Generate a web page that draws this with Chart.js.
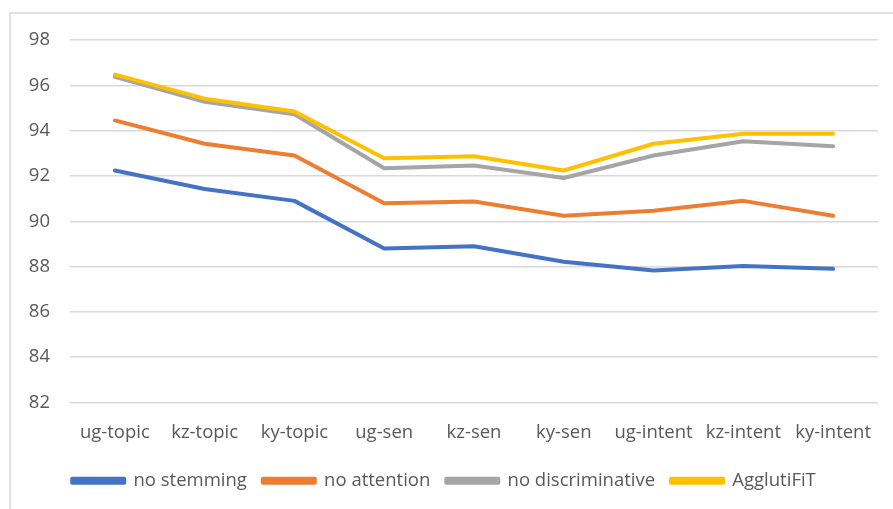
<!DOCTYPE html>
<html>
<head>
<meta charset="utf-8">
<script src="https://cdn.jsdelivr.net/npm/chart.js@4/dist/chart.umd.min.js"></script>
<style>
  html, body { margin: 0; padding: 0; background: #fff; }
  #wrap { width: 893px; height: 509px; position: relative; }
</style>
</head>
<body>
<div id="wrap"><canvas id="chart"></canvas></div>
<script>
// categories
const categories = ['ug-topic', 'kz-topic', 'ky-topic', 'ug-sen', 'kz-sen', 'ky-sen', 'ug-intent', 'kz-intent', 'ky-intent'];

// series
const noStemming = [92.24, 91.42, 90.9, 88.8, 88.9, 88.21, 87.83, 88.02, 87.9];
const noAttention = [94.45, 93.42, 92.9, 90.79, 90.87, 90.24, 90.46, 90.9, 90.24];
const noDiscriminative = [96.37, 95.27, 94.72, 92.34, 92.46, 91.91, 92.9, 93.53, 93.31];
const agglutiFiT = [96.47, 95.41, 94.84, 92.78, 92.87, 92.24, 93.42, 93.86, 93.86];

const seriesNames = ['no stemming', 'no attention', 'no discriminative', 'AgglutiFiT'];
const colors = ['#4472C4', '#ED7D31', '#A5A5A5', '#FFC000'];

const yMin = 82, yMax = 98, yStep = 2;

const textColor = '#595959';
const fontFamily = '"Open Sans", "Liberation Sans", sans-serif';

// frame around the plot (left + top edge only visible)
const framePlugin = {
    id: 'frame',
    beforeDraw(chart) {
        const ctx = chart.ctx;
        ctx.save();
        ctx.strokeStyle = '#d9d9d9';
        ctx.lineWidth = 1.5;
        ctx.beginPath();
        ctx.moveTo(10, chart.height);
        ctx.lineTo(10, 13);
        ctx.lineTo(chart.width, 13);
        ctx.stroke();
        ctx.restore();
    }
};

function makeSet(i, data, order) {
    return {
        label: seriesNames[i],
        data: data,
        borderColor: colors[i],
        backgroundColor: colors[i],
        borderWidth: 4,
        pointRadius: 0,
        tension: 0,
        borderCapStyle: 'round',
        borderJoinStyle: 'round',
        order: order
    };
}

new Chart(document.getElementById('chart'), {
    type: 'line',
    data: {
        labels: categories,
        datasets: [
            makeSet(0, noStemming, 3),
            makeSet(1, noAttention, 2),
            makeSet(2, noDiscriminative, 1),
            makeSet(3, agglutiFiT, 0)
        ]
    },
    options: {
        responsive: true,
        maintainAspectRatio: false,
        animation: false,
        layout: { padding: { left: 10, right: 15, top: 40, bottom: 9 } },
        plugins: {
            tooltip: { enabled: false },
            legend: {
                position: 'bottom',
                labels: {
                    color: textColor,
                    font: { family: fontFamily, size: 18.5 },
                    boxWidth: 52,
                    boxHeight: 4,
                    padding: 16,
                    sort: (a, b) => a.datasetIndex - b.datasetIndex
                }
            }
        },
        scales: {
            x: {
                offset: true,
                grid: { display: false, offset: true },
                border: { display: false },
                ticks: {
                    color: textColor,
                    font: { family: fontFamily, size: 18.5 },
                    maxRotation: 0,
                    autoSkip: false,
                    padding: 11
                },
                afterFit(s) { s.height = 53; }
            },
            y: {
                min: yMin,
                max: yMax,
                ticks: {
                    stepSize: yStep,
                    color: textColor,
                    font: { family: fontFamily, size: 18.5 },
                    padding: 20
                },
                grid: { color: '#d9d9d9', lineWidth: 1.5, drawTicks: false },
                border: { display: false },
                afterFit(s) { s.width = 60; }
            }
        }
    },
    plugins: [framePlugin]
});
</script>
</body>
</html>
